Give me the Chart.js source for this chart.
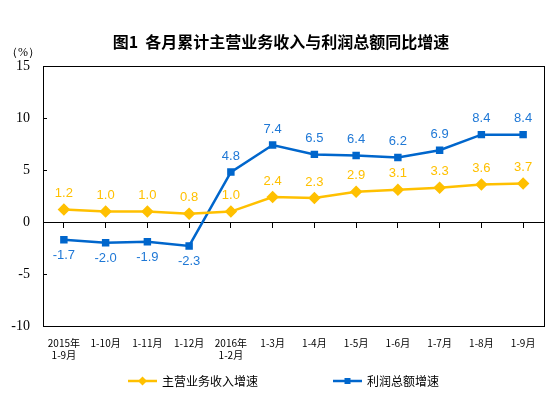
<!DOCTYPE html>
<html>
<head>
<meta charset="utf-8">
<script src="https://cdn.jsdelivr.net/npm/chart.js@4"></script>
<style>
  html, body { margin: 0; padding: 0; background: #fff; }
  #wrap { width: 551px; height: 397px; }
</style>
</head>
<body>
<div id="wrap"><canvas id="chart"></canvas></div>
<script>
// 数据
const months = [['2015年', '1-9月'], '1-10月', '1-11月', '1-12月', ['2016年', '1-2月'], '1-3月', '1-4月', '1-5月', '1-6月', '1-7月', '1-8月', '1-9月'];
const revenueGrowth = [1.2, 1.0, 1.0, 0.8, 1.0, 2.4, 2.3, 2.9, 3.1, 3.3, 3.6, 3.7];
const profitGrowth = [-1.7, -2.0, -1.9, -2.3, 4.8, 7.4, 6.5, 6.4, 6.2, 6.9, 8.4, 8.4];
const yTicks = [-10, -5, 0, 5, 10, 15];

const ORANGE = '#FFC000';
const BLUE = '#0066CC';
const BLUE_LABEL = '#1F78D6';

// 图例小图标：线段 + 标记
function drawIcon(ctx, x, y, color, shape) {
    ctx.strokeStyle = color;
    ctx.lineWidth = 2.5;
    ctx.beginPath(); ctx.moveTo(x, y); ctx.lineTo(x + 29, y); ctx.stroke();
    ctx.fillStyle = color;
    ctx.beginPath();
    const cx = x + 14.5;
    if (shape === 'rectRot') {
        ctx.moveTo(cx, y - 4.5); ctx.lineTo(cx + 4.5, y); ctx.lineTo(cx, y + 4.5); ctx.lineTo(cx - 4.5, y);
    } else {
        ctx.rect(cx - 3, y - 3, 6, 6);
    }
    ctx.fill();
}

// 边框、数值标签、标题、图例
const extras = {
    id: 'extras',
    afterDatasetsDraw(chart) {
        const { ctx, chartArea: a } = chart;
        ctx.save();
        ctx.strokeStyle = '#000';
        ctx.lineWidth = 1;
        ctx.strokeRect(Math.round(a.left) + 0.5, Math.round(a.top) + 0.5, Math.round(a.right - a.left), Math.round(a.bottom - a.top));
        // y 轴内侧刻度
        const ys = chart.scales.y;
        yTicks.forEach(v => {
            const py = Math.round(ys.getPixelForValue(v)) + 0.5;
            ctx.beginPath(); ctx.moveTo(a.left, py); ctx.lineTo(a.left + 4, py); ctx.stroke();
        });
        // 数值标签
        ctx.font = '13px "Liberation Sans", Arial, sans-serif';
        ctx.textAlign = 'center';
        ctx.textBaseline = 'middle';
        chart.data.datasets.forEach((ds, i) => {
            const meta = chart.getDatasetMeta(i);
            ctx.fillStyle = ds.labelColor;
            meta.data.forEach((pt, j) => {
                const v = ds.data[j];
                const dy = v < 0 ? 16 : -16;
                ctx.fillText(v.toFixed(1), pt.x, pt.y + dy);
            });
        });
        // 标题
        ctx.fillStyle = '#000';
        ctx.font = 'bold 16px "Noto Sans CJK SC", sans-serif';
        ctx.fillText('图1  各月累计主营业务收入与利润总额同比增速', 281, 42);
        ctx.font = '12px "Liberation Serif", serif';
        ctx.fillText('（%）', 23, 53);
        // 图例
        const legendX = [128, 333];
        ctx.textAlign = 'left';
        ctx.font = '12px "Noto Sans CJK SC", sans-serif';
        chart.data.datasets.forEach((ds, i) => {
            drawIcon(ctx, legendX[i], 381, ds.borderColor, ds.pointStyle);
            ctx.fillStyle = '#000';
            ctx.fillText(ds.label, legendX[i] + 34, 381);
        });
        ctx.restore();
    }
};

new Chart(document.getElementById('chart'), {
    type: 'line',
    data: {
        labels: months,
        datasets: [
            {
                label: '主营业务收入增速',
                data: revenueGrowth,
                borderColor: ORANGE,
                backgroundColor: ORANGE,
                labelColor: ORANGE,
                borderWidth: 2.5,
                pointStyle: 'rectRot',
                pointRadius: 4.5,
                pointHoverRadius: 4.5,
                tension: 0
            },
            {
                label: '利润总额增速',
                data: profitGrowth,
                borderColor: BLUE,
                backgroundColor: BLUE,
                labelColor: BLUE_LABEL,
                borderWidth: 2.5,
                pointStyle: 'rect',
                pointRadius: 3.5,
                pointHoverRadius: 3.5,
                tension: 0
            }
        ]
    },
    options: {
        responsive: true,
        maintainAspectRatio: false,
        animation: false,
        layout: { padding: { top: 66, right: 6, left: 0, bottom: 0 } },
        plugins: {
            tooltip: { enabled: false },
            legend: { display: false }
        },
        scales: {
            y: {
                min: -10,
                max: 15,
                afterFit: (s) => { s.width = 43; },
                afterBuildTicks: (s) => { s.ticks = yTicks.map(v => ({ value: v })); },
                grid: { drawOnChartArea: false, drawTicks: false },
                border: { display: true, color: '#000', width: 1 },
                ticks: {
                    padding: 13,
                    color: '#000',
                    font: { size: 14, family: '"Liberation Serif", serif' }
                }
            },
            x: {
                position: { y: 0 },
                offset: true,
                grid: { drawOnChartArea: false, drawTicks: true, tickLength: 5, color: '#000' },
                border: { display: true, color: '#000', width: 1 },
                ticks: { display: false }
            },
            x2: {
                type: 'category',
                position: 'bottom',
                labels: months,
                offset: true,
                afterFit: (s) => { s.height = 71; },
                grid: { display: false },
                border: { display: true, color: '#000', width: 1 },
                ticks: {
                    autoSkip: false,
                    maxRotation: 0,
                    padding: 3,
                    color: '#000',
                    font: { size: 10, family: '"Noto Sans CJK SC", sans-serif', lineHeight: 1.2 }
                }
            }
        }
    },
    plugins: [extras]
});
</script>
</body>
</html>
